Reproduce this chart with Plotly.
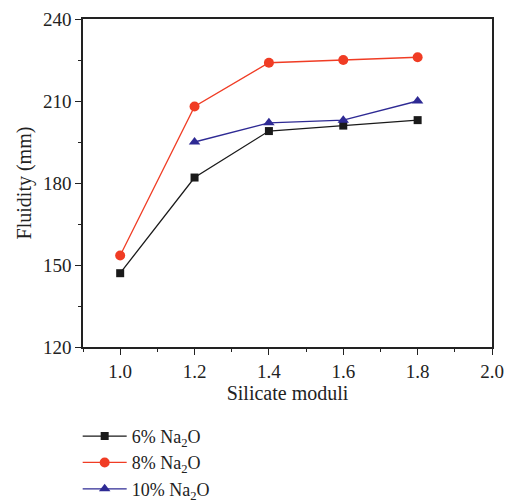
import plotly.graph_objects as go

moduli = [1.0, 1.2, 1.4, 1.6, 1.8]
moduli_10 = [1.2, 1.4, 1.6, 1.8]
na6 = [147, 182, 199, 201, 203]
na8 = [153.5, 208, 224, 225, 226]
na10 = [195, 202, 203, 210]

font_family = "Liberation Serif"

fig = go.Figure()
fig.add_trace(go.Scatter(x=moduli, y=na6, mode="lines+markers", name="6% Na<sub>2</sub>O",
                         line=dict(color="#1a1a1a", width=1.3),
                         marker=dict(symbol="square", size=8, color="#1a1a1a")))
fig.add_trace(go.Scatter(x=moduli, y=na8, mode="lines+markers", name="8% Na<sub>2</sub>O",
                         line=dict(color="#f03c24", width=1.3),
                         marker=dict(symbol="circle", size=10, color="#f03c24")))
fig.add_trace(go.Scatter(x=moduli_10, y=na10, mode="lines+markers", name="10% Na<sub>2</sub>O",
                         line=dict(color="#2e2a94", width=1.3),
                         marker=dict(symbol="triangle-up", size=10, color="#2e2a94")))

axis_common = dict(showline=True, linecolor="#222", linewidth=1.5, mirror=True,
                   ticks="outside", ticklen=6, tickwidth=1.2, tickcolor="#222",
                   showgrid=False, zeroline=False, automargin=False,
                   tickfont=dict(family=font_family, size=19, color="#222"))

fig.update_xaxes(range=[0.9, 2.0], tick0=1.0, dtick=0.2, tickformat=".1f",
                 minor=dict(ticks="outside", ticklen=3, dtick=0.1, tick0=0.9, tickcolor="#222"),
                 title=dict(text="Silicate moduli", font=dict(family=font_family, size=20, color="#222"), standoff=4),
                 **axis_common)
fig.update_yaxes(range=[120, 240], tick0=120, dtick=30,
                 minor=dict(ticks="outside", ticklen=3, dtick=15, tickcolor="#222"),
                 title=dict(text="Fluidity (mm)", font=dict(family=font_family, size=20, color="#222"), standoff=6),
                 **axis_common)

fig.update_layout(
    width=510, height=502,
    margin=dict(l=83, r=18, t=19, b=155, autoexpand=False),
    plot_bgcolor="white", paper_bgcolor="white",
    font=dict(family=font_family, size=18, color="#222"),
    showlegend=True,
    legend=dict(x=-0.013, y=-0.216, xanchor="left", yanchor="top",
                bgcolor="rgba(0,0,0,0)", tracegroupgap=0, itemwidth=44,
                font=dict(family=font_family, size=18, color="#222")),
)

fig.write_html("out.html")
